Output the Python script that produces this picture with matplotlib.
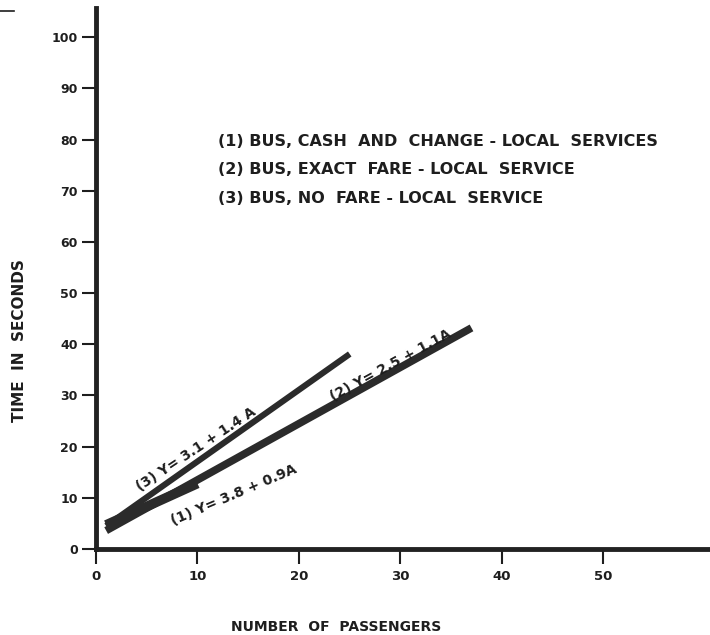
import matplotlib
matplotlib.use("Agg")
from matplotlib import pyplot as plt
from matplotlib.lines import Line2D

# boarding time lines: Y = a + b*A, drawn between the first and last passenger count
line_ids = ["(1)", "(2)", "(3)"]
intercepts = [3.8, 2.5, 3.1]
slopes = [0.9, 1.1, 1.4]
a_start = [1, 1, 1]
a_end = [10, 37, 25]
widths = [7.0, 5.5, 4.4]

legend_lines = [
    "(1) BUS, CASH  AND  CHANGE - LOCAL  SERVICES",
    "(2) BUS, EXACT  FARE - LOCAL  SERVICE",
    "(3) BUS, NO  FARE - LOCAL  SERVICE",
]

x_ticks = [0, 10, 20, 30, 40, 50]
y_ticks = [0, 10, 20, 30, 40, 50, 60, 70, 80, 90, 100]

ink = "#1e1e1e"

fig = plt.figure(figsize=(7.1, 6.35), dpi=100)
ax = fig.add_axes([96 / 710, 86 / 635, 614 / 710, 541 / 635])
ax.set_xlim(0, 60.5)
ax.set_ylim(0, 105.7)

for b0, b1, a0, a1, lw in zip(intercepts, slopes, a_start, a_end, widths):
    xs = [a0, a1]
    ys = [b0 + b1 * a0, b0 + b1 * a1]
    ax.plot(xs, ys, color="#2b2b2b", lw=lw, solid_capstyle="butt")

# equation labels along the lines
eq_font = dict(fontsize=10, fontweight="bold", color=ink, ha="center", va="center",
               rotation_mode="anchor")
ax.text(13.6, 10.6, "(1) Y= 3.8 + 0.9A", rotation=23, **eq_font)
ax.text(29.0, 35.9, "(2) Y= 2.5 + 1.1A", rotation=28.5, **eq_font)
ax.text(9.9, 19.4, "(3) Y= 3.1 + 1.4 A", rotation=33.5, **eq_font)

for i, txt in enumerate(legend_lines):
    ax.text(12.0, 79.7 - 5.65 * i, txt, fontsize=11.5, fontweight="bold",
            color=ink, ha="left", va="center")

for side in ["top", "right"]:
    ax.spines[side].set_visible(False)
for side in ["left", "bottom"]:
    ax.spines[side].set_linewidth(3.5)
    ax.spines[side].set_color("#222222")

ax.set_xticks(x_ticks)
ax.set_yticks(y_ticks)
ax.tick_params(axis="y", length=10, width=1.5, pad=3, color=ink,
               labelsize=9, labelcolor=ink)
ax.tick_params(axis="x", length=11, width=1.5, pad=4, color=ink,
               labelsize=9.5, labelcolor=ink)
for lab in ax.get_xticklabels() + ax.get_yticklabels():
    lab.set_fontweight("bold")

fig.text(336 / 710, 1 - 627 / 635, "NUMBER  OF  PASSENGERS", fontsize=10,
         fontweight="bold", color=ink, ha="center", va="center")
fig.text(20 / 710, 1 - 341 / 635, "TIME  IN  SECONDS", fontsize=11,
         fontweight="bold", color=ink, ha="center", va="center", rotation=90)

# short mark in the top left corner
fig.add_artist(Line2D([0, 14 / 710], [1 - 11 / 635, 1 - 11 / 635],
                      color=ink, lw=1.2))

fig.savefig("out.png", dpi=100)
